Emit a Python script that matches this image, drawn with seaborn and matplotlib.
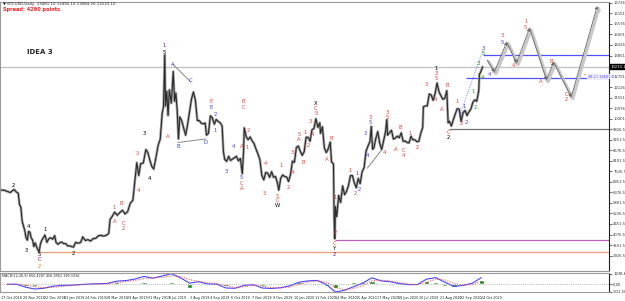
import numpy as np
import pandas as pd
import seaborn as sns
import matplotlib
matplotlib.use('Agg')
import matplotlib.pyplot as plt
import matplotlib.dates as mdates
import matplotlib.patheffects as pe
import matplotlib.transforms as mtrans

price_dates = [
    '2018-10-16', '2018-10-20', '2018-10-24', '2018-10-28', '2018-11-01', '2018-11-04', '2018-11-07',
    '2018-11-10', '2018-11-13', '2018-11-15', '2018-11-17', '2018-11-19', '2018-11-21', '2018-11-23',
    '2018-11-25', '2018-11-27', '2018-11-29', '2018-12-01', '2018-12-03', '2018-12-05', '2018-12-07',
    '2018-12-09', '2018-12-11', '2018-12-13', '2018-12-15', '2018-12-17', '2018-12-19', '2018-12-21',
    '2018-12-24', '2018-12-27', '2018-12-30', '2019-01-02', '2019-01-05', '2019-01-08', '2019-01-10',
    '2019-01-13', '2019-01-16', '2019-01-19', '2019-01-22', '2019-01-25', '2019-01-28', '2019-01-31',
    '2019-02-03', '2019-02-06', '2019-02-09', '2019-02-13', '2019-02-17', '2019-02-20', '2019-02-24',
    '2019-02-28', '2019-03-04', '2019-03-08', '2019-03-12', '2019-03-16', '2019-03-20', '2019-03-24',
    '2019-03-28', '2019-04-01', '2019-04-03', '2019-04-06', '2019-04-10', '2019-04-14', '2019-04-18',
    '2019-04-22', '2019-04-26', '2019-04-30', '2019-05-04', '2019-05-08', '2019-05-11', '2019-05-14',
    '2019-05-17', '2019-05-20', '2019-05-24', '2019-05-28', '2019-05-31', '2019-06-03', '2019-06-06',
    '2019-06-09', '2019-06-12', '2019-06-16', '2019-06-19', '2019-06-22', '2019-06-24', '2019-06-26',
    '2019-06-27', '2019-06-29', '2019-07-01', '2019-07-03', '2019-07-06', '2019-07-09', '2019-07-11',
    '2019-07-13', '2019-07-15', '2019-07-17', '2019-07-19', '2019-07-22', '2019-07-25', '2019-07-28',
    '2019-07-31', '2019-08-03', '2019-08-06', '2019-08-09', '2019-08-12', '2019-08-15', '2019-08-18',
    '2019-08-21', '2019-08-24', '2019-08-27', '2019-08-29', '2019-09-01', '2019-09-04', '2019-09-07',
    '2019-09-10', '2019-09-13', '2019-09-16', '2019-09-19', '2019-09-22', '2019-09-24', '2019-09-26',
    '2019-09-29', '2019-10-02', '2019-10-05', '2019-10-08', '2019-10-11', '2019-10-14', '2019-10-17',
    '2019-10-20', '2019-10-23', '2019-10-25', '2019-10-26', '2019-10-29', '2019-11-01', '2019-11-04',
    '2019-11-07', '2019-11-10', '2019-11-13', '2019-11-16', '2019-11-19', '2019-11-22', '2019-11-25',
    '2019-11-28', '2019-12-01', '2019-12-04', '2019-12-07', '2019-12-10', '2019-12-13', '2019-12-16',
    '2019-12-18', '2019-12-21', '2019-12-24', '2019-12-27', '2019-12-30', '2020-01-02', '2020-01-05',
    '2020-01-08', '2020-01-11', '2020-01-14', '2020-01-17', '2020-01-20', '2020-01-23', '2020-01-26',
    '2020-01-29', '2020-02-01', '2020-02-04', '2020-02-07', '2020-02-10', '2020-02-13', '2020-02-16',
    '2020-02-19', '2020-02-20', '2020-02-23', '2020-02-26', '2020-02-29', '2020-03-03', '2020-03-06',
    '2020-03-08', '2020-03-11', '2020-03-12', '2020-03-13', '2020-03-14', '2020-03-16', '2020-03-19',
    '2020-03-22', '2020-03-25', '2020-03-28', '2020-03-31', '2020-04-03', '2020-04-06', '2020-04-09',
    '2020-04-12', '2020-04-15', '2020-04-18', '2020-04-21', '2020-04-24', '2020-04-27', '2020-04-30',
    '2020-05-03', '2020-05-06', '2020-05-08', '2020-05-10', '2020-05-12', '2020-05-15', '2020-05-18',
    '2020-05-21', '2020-05-24', '2020-05-27', '2020-05-30', '2020-06-01', '2020-06-02', '2020-06-05',
    '2020-06-08', '2020-06-11', '2020-06-14', '2020-06-17', '2020-06-20', '2020-06-23', '2020-06-26',
    '2020-06-29', '2020-07-02', '2020-07-05', '2020-07-08', '2020-07-11', '2020-07-14', '2020-07-17',
    '2020-07-20', '2020-07-23', '2020-07-26', '2020-07-27', '2020-07-30', '2020-08-02', '2020-08-05',
    '2020-08-08', '2020-08-11', '2020-08-14', '2020-08-17', '2020-08-20', '2020-08-23', '2020-08-26',
    '2020-08-29', '2020-09-01', '2020-09-03', '2020-09-05', '2020-09-08', '2020-09-11', '2020-09-14',
    '2020-09-17', '2020-09-20', '2020-09-23', '2020-09-26', '2020-09-29', '2020-10-02', '2020-10-05',
    '2020-10-08', '2020-10-11', '2020-10-14', '2020-10-17', '2020-10-20', '2020-10-21', '2020-10-23',
    '2020-10-26',
]
price_close = [
    6480, 6510, 6480, 6420, 6370, 6470, 6530,
    6400, 6330, 5700, 5580, 4800, 4560, 4300,
    3900, 3770, 4250, 4200, 3880, 3780, 3420,
    3620, 3420, 3250, 3122, 3550, 3750, 3870,
    4050, 3650, 3850, 3900, 3820, 4020, 3650,
    3540, 3640, 3660, 3580, 3580, 3450, 3460,
    3420, 3390, 3650, 3600, 3650, 3950, 3750,
    3800, 3720, 3850, 3870, 4010, 4030, 3990,
    4030, 4140, 4900, 5050, 5300, 5130, 5280,
    5400, 5200, 5330, 5780, 5950, 7000, 8000,
    7300, 7950, 7980, 8720, 8550, 8140, 7800,
    7650, 8200, 8980, 9280, 10700, 11050, 13880,
    11100, 11900, 10580, 11980, 11250, 12980, 11350,
    11800, 10880, 9300, 10500, 10300, 9880, 9500,
    10080, 10800, 11480, 11860, 11400, 10300, 10300,
    10150, 10120, 10170, 9500, 9600, 10560, 10450,
    10100, 10360, 10250, 10180, 10010, 8600, 8180,
    8070, 8350, 8120, 8200, 8270, 8350, 8100,
    8230, 7400, 8650, 9900, 9420, 9250, 9410,
    9200, 9050, 8750, 8480, 8160, 7300, 7060,
    7470, 7430, 7200, 7510, 7200, 7250, 6880,
    6500, 7150, 7330, 7240, 7220, 6970, 7350,
    8080, 8020, 8830, 8910, 8620, 8400, 8600,
    9390, 9380, 9170, 9800, 9860, 10400, 9930,
    10180, 9600, 9960, 8800, 8550, 8770, 9120,
    8040, 7930, 4950, 3850, 5600, 5050, 6210,
    5830, 6730, 6250, 6430, 6750, 7290, 7300,
    6900, 6630, 7140, 6860, 7510, 7730, 8630,
    8910, 9160, 9980, 8730, 8800, 9330, 9700,
    9050, 8720, 9200, 9710, 10350, 9500, 9640,
    9770, 9290, 9340, 9450, 9360, 9630, 9160,
    9190, 9100, 9080, 9440, 9250, 9250, 9150,
    9160, 9600, 9930, 11050, 11100, 11100, 11750,
    11700, 11400, 11780, 12350, 11870, 11650, 11460,
    11520, 11930, 10180, 10260, 10000, 10350, 10660,
    10950, 10920, 10250, 10740, 10850, 10570, 10780,
    10930, 11300, 11430, 11350, 11930, 12820, 12950,
    13233,
]

# ---- MACD sub-window (every 14 days) ----
macd_dates = pd.date_range('2018-10-27', periods=53, freq='14D')
macd_main = [
    -30, -20, -350, -560, -480, -250, -150, -130, -60, 0, 30, 60, 320, 380, 550, 850, 650, 900,
    1150, 700, 100, 250, 0, -20, -450, -480, -150, -80, -450, -500, -420, -200, 200, 350, 400,
    -50, -900, -700, -300, 100, 700, 350, 250, 50, -80, -60, 550, 720, 200, -280, -150, 80, 720,
]
macd_signal = [
    -20, -25, -120, -300, -420, -380, -260, -180, -110, -50, 0, 40, 150, 280, 400, 600, 700, 750,
    900, 850, 500, 300, 150, 50, -200, -380, -300, -150, -250, -400, -450, -330, -50, 200, 350,
    200, -400, -650, -500, -150, 350, 450, 330, 150, 0, -60, 200, 550, 450, 50, -150, -50, 300,
]

# ---- projected wave path ----
proj_dates = ['2020-11-02', '2020-11-13', '2020-12-02', '2020-12-17', '2021-01-06',
              '2021-02-01', '2021-02-12', '2021-03-11', '2021-04-20']
proj_prices = [13605, 12950, 14588, 13441, 15352, 12513, 13496, 11585, 16554]

# ---- wave labels: date, price, text, colour ----
K, R, B, P, O, G = '#000000', '#f03c32', '#3c3cff', '#8c008c', '#e87820', '#1e9a1e'
wave_labels = [
    ('2018-11-06', 6780, '2', K), ('2018-11-26', 3231, '3', K), ('2018-11-29', 4542, '4', K),
    ('2018-12-15', 3013, '5', K), ('2018-12-15', 2740, 'C', P), ('2018-12-15', 2358, '2', O),
    ('2018-12-24', 4378, '1', K), ('2019-02-05', 3067, '2', K),
    ('2019-04-09', 5579, '1', R), ('2019-04-10', 4815, 'A', R), ('2019-04-21', 5797, 'B', R),
    ('2019-04-24', 4706, 'C', R), ('2019-04-24', 4433, '2', R),
    ('2019-05-14', 8527, '3', R), ('2019-05-16', 6507, '4', R),
    ('2019-05-26', 9619, '3', K), ('2019-06-03', 7162, '4', K),
    ('2019-06-25', 14424, '1', P), ('2019-06-25', 14042, '5', K),
    ('2019-07-08', 13387, 'A', B), ('2019-08-05', 12513, 'C', B), ('2019-07-01', 9456, 'A', R),
    ('2019-07-16', 8910, 'B', B), ('2019-08-28', 9128, 'D', B),
    ('2019-09-05', 11366, 'E', R), ('2019-09-05', 11039, 'E', B),
    ('2019-09-12', 10657, '2', B), ('2019-09-11', 9783, '1', B),
    ('2019-09-29', 7545, '3', B), ('2019-10-10', 8910, '4', B),
    ('2019-10-22', 7217, '5', B), ('2019-10-22', 6889, 'C', R), ('2019-10-22', 6616, 'A', R),
    ('2019-10-25', 11366, 'B', R), ('2019-10-25', 11039, 'C', R),
    ('2019-10-22', 8910, 'A', R), ('2019-10-30', 8855, '1', R), ('2019-11-02', 9783, '2', R),
    ('2019-11-28', 7981, '4', R), ('2019-11-25', 6343, '3', R),
    ('2019-12-16', 6180, '5', R), ('2019-12-16', 5961, 'C', R), ('2019-12-16', 5688, 'W', K),
    ('2019-12-22', 7872, '1', R), ('2020-01-01', 6671, '2', R), ('2020-01-07', 8582, '3', R),
    ('2020-01-08', 7490, '4', R), ('2020-01-18', 9565, '5', R), ('2020-01-18', 9292, 'A', R),
    ('2020-01-24', 8036, 'B', R), ('2020-01-28', 9674, '1', R), ('2020-02-02', 8964, '2', R),
    ('2020-02-08', 9565, '4', R), ('2020-02-05', 10275, '3', R),
    ('2020-02-13', 11257, 'X', K), ('2020-02-13', 10984, 'C', R), ('2020-02-13', 10711, '5', R),
    ('2020-03-01', 8200, 'A', R), ('2020-03-07', 9346, 'B', R),
    ('2020-03-14', 6125, '1', R), ('2020-03-14', 4214, '2', R),
    ('2020-03-13', 3613, 'C', R), ('2020-03-13', 3340, 'Y', K), ('2020-03-13', 3013, '2', P),
    ('2020-04-06', 7599, '1', R), ('2020-04-17', 7435, '1', B), ('2020-04-19', 6562, '2', B),
    ('2020-04-14', 6343, '2', R), ('2020-04-29', 9619, '3', B), ('2020-05-02', 8418, '4', B),
    ('2020-05-07', 10493, '3', R), ('2020-05-07', 10220, '5', B),
    ('2020-05-28', 8582, '4', R), ('2020-06-01', 10766, '3', R), ('2020-06-01', 10493, '5', R),
    ('2020-06-14', 8746, 'A', R), ('2020-06-22', 9947, 'B', R),
    ('2020-06-27', 8691, 'C', R), ('2020-06-27', 8418, '4', R),
    ('2020-07-06', 9619, '1', R), ('2020-07-17', 8855, '2', R),
    ('2020-08-01', 12295, '3', R), ('2020-08-15', 11476, '4', R),
    ('2020-08-16', 13168, '1', K), ('2020-08-16', 12895, '3', R), ('2020-08-16', 12622, '5', R),
    ('2020-09-02', 12240, 'B', R), ('2020-08-24', 10929, 'A', R),
    ('2020-09-04', 9674, 'C', R), ('2020-09-04', 9401, '2', K),
    ('2020-09-17', 11366, '1', R), ('2020-09-24', 10165, '2', R),
    ('2020-09-27', 11094, '1', B), ('2020-10-01', 10220, '2', B),
    ('2020-10-12', 11913, '1', G), ('2020-10-15', 11039, '2', G), ('2020-10-20', 13441, '3', G),
    ('2020-10-26', 12677, '4', G), ('2020-10-27', 14260, '3', B), ('2020-10-27', 13987, '5', G),
    ('2020-11-06', 12841, '4', B), ('2020-11-25', 14970, '3', R), ('2020-11-25', 14588, '5', B),
    ('2020-12-12', 13332, '4', R), ('2020-12-31', 15735, '1', R), ('2020-12-31', 15407, '5', R),
    ('2021-01-24', 12459, 'A', R), ('2021-02-09', 13550, 'B', R),
    ('2021-03-04', 11749, 'C', R), ('2021-03-04', 11476, '2', R),
]

# horizontal levels: price, start date, colour, style
levels = [
    (13233, '2018-10-16', '#c0c0c0', '-'),
    (13900, '2020-10-26', '#5050ff', '-'),
    (12600, '2020-10-01', '#5050ff', '-'),
    (12841, '2021-03-30', '#ff7020', ':'),
    (9840, '2020-09-05', '#707070', '-'),
    (3777, '2020-03-13', '#c060c0', '-'),
    (3122, '2018-12-15', '#f0a070', '-'),
]

price_ticks = [16726.56, 16151.56, 15576.56, 15001.56, 14426.56, 13851.56, 13276.56, 12701.56,
               12126.56, 11551.56, 10976.56, 10401.56, 9826.56, 9251.56, 8676.56, 8101.56,
               7526.56, 6951.56, 6376.56, 5801.56, 5226.56, 4651.56, 4076.56, 3501.56, 2926.56]
date_ticks = ['2018-10-17', '2018-11-20', '2018-12-22', '2019-01-23', '2019-02-24', '2019-03-28',
              '2019-04-29', '2019-05-31', '2019-07-02', '2019-08-03', '2019-09-04', '2019-10-06',
              '2019-11-07', '2019-12-09', '2020-01-10', '2020-02-11', '2020-03-14', '2020-04-15',
              '2020-05-17', '2020-06-18', '2020-07-20', '2020-08-21', '2020-09-22', '2020-10-24']

sns.set_style('white')
plt.rcParams['font.family'] = ['DejaVu Sans']

W, H = 625, 301
fig = plt.figure(figsize=(W / 100, H / 100), dpi=100)
ax = fig.add_axes([0, 1 - 271 / H, 609 / W, 269 / H])
ax2 = fig.add_axes([0, 1 - 292 / H, 609 / W, 19 / H])

xmin, xmax = pd.Timestamp('2018-10-16'), pd.Timestamp('2021-05-08')

df = pd.DataFrame({'date': pd.to_datetime(price_dates), 'close': price_close})
sns.lineplot(data=df, x='date', y='close', ax=ax, color='#a8a8a8', lw=1.9, legend=False)
sns.lineplot(data=df, x='date', y='close', ax=ax, color='#2a2a2a', lw=0.8, legend=False)

for price, start, col, ls in levels:
    ax.hlines(price, mdates.date2num(pd.Timestamp(start)), mdates.date2num(xmax),
              color=col, lw=0.9, ls=ls, zorder=1)

# triangle / channel lines
tri = [(('2019-07-08', 13387), ('2019-08-05', 12400)),
       (('2019-07-16', 9100), ('2019-08-28', 9300)),
       (('2020-05-02', 7700), ('2020-05-24', 8700))]
for (d1, p1), (d2, p2) in tri:
    ax.plot(pd.to_datetime([d1, d2]), [p1, p2], color='#777777', lw=0.6)
ax.plot(pd.to_datetime(['2020-09-20', '2020-10-27']), [10500, 14200], color='#5050ff', lw=0.6, ls=':')

# projected path with shadow and arrow heads
shadow = [pe.SimpleLineShadow(offset=(1.2, -1.2), shadow_color='#c8c8c8', alpha=1, linewidth=2.2), pe.Normal()]
pd_num = mdates.date2num(pd.to_datetime(proj_dates))
for i in range(len(proj_prices) - 1):
    ax.annotate('', xy=(pd_num[i + 1], proj_prices[i + 1]), xytext=(pd_num[i], proj_prices[i]),
                arrowprops=dict(arrowstyle='-|>', color='#666666', lw=0.6, mutation_scale=4,
                                shrinkA=0, shrinkB=0, path_effects=shadow))

for d, p, t, c in wave_labels:
    ax.text(pd.Timestamp(d), p, t, color=c, fontsize=3.8, ha='center', va='center')

ax.text(0.044, 0.815, 'IDEA 3', transform=ax.transAxes, fontsize=5, fontweight='bold', ha='left', va='center')

ax.set_xlim(xmin, xmax)
ax.set_ylim(2085, 16774)
ax.set_xticks([])
ax.set_xlabel('')
ax.set_ylabel('')
ax.yaxis.tick_right()
ax.set_yticks(price_ticks)
ax.set_yticklabels(['%.2f' % v for v in price_ticks])
ax.tick_params(axis='y', labelsize=2.7, length=2, pad=1, colors='#333333', width=0.5)
for s in ax.spines.values():
    s.set_color('#9a9a9a')
    s.set_linewidth(0.8)
ax.spines['right'].set_color('#202020')

# current price tag and fib tag
tr = mtrans.blended_transform_factory(ax.transAxes, ax.transData)
ax.text(1.003, 13233, '13233.10', transform=tr, fontsize=2.7, color='white', va='center', ha='left',
        bbox=dict(boxstyle='square,pad=0.15', fc='black', ec='black'), clip_on=False)
ax.text(0.965, 12700, '38.2 / 12601.0', transform=tr, fontsize=2.5, color='#3c3cff', va='center', ha='left',
        bbox=dict(boxstyle='square,pad=0.1', fc='#eef', ec='none'))

# ---- MACD panel ----
md = pd.DataFrame({'date': macd_dates, 'main': macd_main, 'signal': macd_signal})
md['hist'] = md['main'] - md['signal']
ax2.bar(md['date'], md['hist'], width=8, color='#1e8c1e', zorder=2)
sns.lineplot(data=md, x='date', y='main', ax=ax2, color='#4646ff', lw=0.8, legend=False)
sns.lineplot(data=md, x='date', y='signal', ax=ax2, color='#ff3030', lw=0.7, ls=':', legend=False)
ax2.axhline(0, color='#888888', lw=0.5, ls=':')
ax2.set_xlim(xmin, xmax)
ax2.set_ylim(-896, 1232)
ax2.set_xlabel('')
ax2.set_ylabel('')
ax2.yaxis.tick_right()
ax2.set_yticks([1160, 0, -860])
ax2.set_yticklabels(['1238.691', '0.00', '-911.562'])
ax2.tick_params(axis='y', labelsize=2.7, length=2, pad=1, width=0.5)
ax2.set_xticks(pd.to_datetime(date_ticks))
ax2.set_xticklabels([pd.Timestamp(d).strftime('%-d %b %Y') for d in date_ticks], ha='left')
ax2.tick_params(axis='x', labelsize=2.4, length=2, pad=1, width=0.5)
for s in ax2.spines.values():
    s.set_color('#9a9a9a')
    s.set_linewidth(0.8)
ax2.spines['right'].set_color('#202020')
ax2.text(0.004, 0.82, 'MACD(12,26,9) 655.4287 456.0953 199.3334', transform=ax2.transAxes,
         fontsize=2.4, ha='left', va='center')

fig.text(3 / W, 1 - 4 / H, '\u25bc BTCUSD,Daily  13481.10 13492.10 13084.20 13233.10', fontsize=2.8,
         ha='left', va='center')
fig.text(3 / W, 1 - 10 / H, 'Spread: 4290 points', fontsize=3.6, color='#ff2020', fontweight='bold',
         ha='left', va='center')

fig.savefig('out.png', dpi=100)
